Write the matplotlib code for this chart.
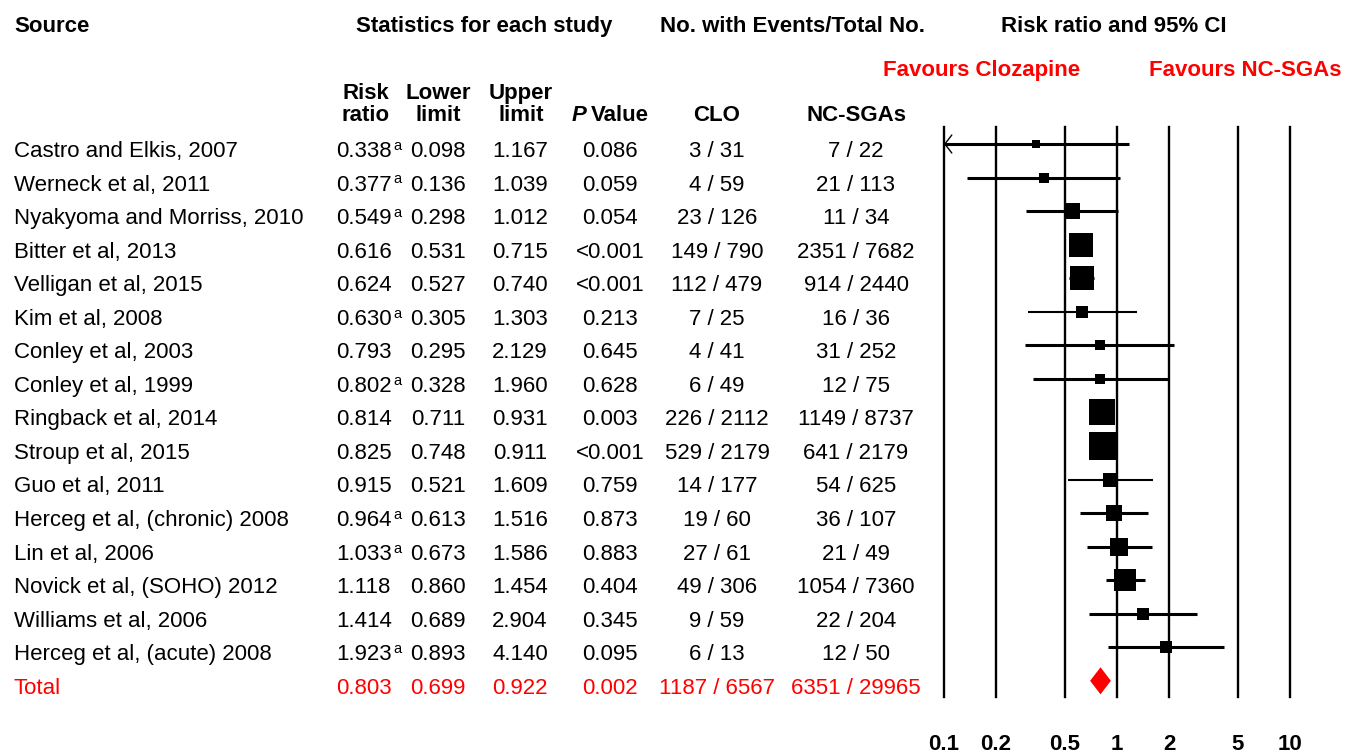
import math
import matplotlib
matplotlib.use('Agg')
import matplotlib.pyplot as plt
from matplotlib.transforms import blended_transform_factory

# ---------------- data ----------------
studies = [
    "Castro and Elkis, 2007", "Werneck et al, 2011", "Nyakyoma and Morriss, 2010",
    "Bitter et al, 2013", "Velligan et al, 2015", "Kim et al, 2008",
    "Conley et al, 2003", "Conley et al, 1999", "Ringback et al, 2014",
    "Stroup et al, 2015", "Guo et al, 2011", "Herceg et al, (chronic) 2008",
    "Lin et al, 2006", "Novick et al, (SOHO) 2012", "Williams et al, 2006",
    "Herceg et al, (acute) 2008",
]
risk_ratio = [0.338, 0.377, 0.549, 0.616, 0.624, 0.630, 0.793, 0.802, 0.814,
              0.825, 0.915, 0.964, 1.033, 1.118, 1.414, 1.923]
lower_limit = [0.098, 0.136, 0.298, 0.531, 0.527, 0.305, 0.295, 0.328, 0.711,
               0.748, 0.521, 0.613, 0.673, 0.860, 0.689, 0.893]
upper_limit = [1.167, 1.039, 1.012, 0.715, 0.740, 1.303, 2.129, 1.960, 0.931,
               0.911, 1.609, 1.516, 1.586, 1.454, 2.904, 4.140]
p_values = ["0.086", "0.059", "0.054", "<0.001", "<0.001", "0.213", "0.645",
            "0.628", "0.003", "<0.001", "0.759", "0.873", "0.883", "0.404",
            "0.345", "0.095"]
footnote_a = [True, True, True, False, False, True, False, True, False, False,
              False, True, True, False, False, True]
clo_events = [3, 4, 23, 149, 112, 7, 4, 6, 226, 529, 14, 19, 27, 49, 9, 6]
clo_total = [31, 59, 126, 790, 479, 25, 41, 49, 2112, 2179, 177, 60, 61, 306, 59, 13]
nc_events = [7, 21, 11, 2351, 914, 16, 31, 12, 1149, 641, 54, 36, 21, 1054, 22, 12]
nc_total = [22, 113, 34, 7682, 2440, 36, 252, 75, 8737, 2179, 625, 107, 49, 7360, 204, 50]
rel_weight = [1.0, 1.7, 4.7, 12.1, 12.1, 3.0, 1.7, 2.1, 14.2, 15.3, 4.1, 5.4,
              6.1, 10.2, 3.0, 3.0]

total_label = "Total"
total_rr, total_lower, total_upper = 0.803, 0.699, 0.922
total_p = "0.002"
total_clo = (1187, 6567)
total_nc = (6351, 29965)

x_ticks = [0.1, 0.2, 0.5, 1, 2, 5, 10]
x_tick_labels = ["0.1", "0.2", "0.5", "1", "2", "5", "10"]

# ---------------- figure ----------------
W, H = 1346, 755
plt.rcParams['font.family'] = ['Liberation Sans', 'DejaVu Sans']

fig = plt.figure(figsize=(W / 100, H / 100), dpi=100)
FS = 16

def fx(px):
    return px / W

def fy(py):
    return 1 - py / H

ax = fig.add_axes([fx(944), fy(697), fx(1290) - fx(944), (697 - 127) / H])
ax.set_xscale('log')
ax.set_xlim(0.1, 10)
row_px = 33.55
ax.set_ylim((697 - 144) / row_px, (127 - 144) / row_px)
for s in ax.spines.values():
    s.set_visible(False)
ax.set_yticks([])
ax.set_xticks(x_ticks, labels=x_tick_labels, fontsize=FS, fontweight='bold')
ax.minorticks_off()
ax.tick_params(axis='x', length=0, pad=27)
ax.patch.set_alpha(0)

for t in x_ticks:
    ax.axvline(t, color='black', lw=1.7, clip_on=False, zorder=1)

xmin = 0.1
thin_rows = {5, 10}
n = len(studies)
for i in range(n):
    lo, hi, rr = lower_limit[i], upper_limit[i], risk_ratio[i]
    lw = 1.5 if i in thin_rows else 2.2
    ax.hlines(i, max(lo, xmin), hi, color='black', lw=lw, zorder=2, clip_on=False)
    if lo < xmin:
        ax.annotate('', xy=(xmin, i), xytext=(xmin * 1.5, i),
                    arrowprops=dict(arrowstyle='->,head_length=0.5,head_width=0.65',
                                    lw=1.0, color='black', shrinkA=0, shrinkB=0,
                                    mutation_scale=10),
                    annotation_clip=False)
    ax.plot(rr, i, marker='s', ms=5.1 * math.sqrt(rel_weight[i]),
            color='black', mew=0, zorder=3, clip_on=False)

dh = 13.5 / row_px
ax.fill([total_lower, total_rr, total_upper, total_rr],
        [n, n - dh, n, n + dh], color='#ff0000', lw=0, zorder=3)

# ---------------- table text ----------------
tr = blended_transform_factory(fig.transFigure, ax.transData)
off = 13 / row_px

def row_text(px, row, s, ha='left', color='black'):
    return fig.text(fx(px), row + off, s, transform=tr, ha=ha, va='baseline',
                    fontsize=FS, color=color)

for i in range(n):
    row_text(14, i, studies[i])
    t = row_text(336, i, f"{risk_ratio[i]:.3f}")
    if footnote_a[i]:
        ax.annotate("a", xy=(1, 1), xycoords=t, xytext=(1.0, 1.5),
                    textcoords='offset points', ha='left', va='top',
                    fontsize=10.5, annotation_clip=False)
    row_text(438, i, f"{lower_limit[i]:.3f}", ha='center')
    row_text(520, i, f"{upper_limit[i]:.3f}", ha='center')
    row_text(610, i, p_values[i], ha='center')
    row_text(717, i, f"{clo_events[i]} / {clo_total[i]}", ha='center')
    row_text(856, i, f"{nc_events[i]} / {nc_total[i]}", ha='center')

red = '#ff0000'
row_text(14, n, total_label, color=red)
row_text(336, n, f"{total_rr:.3f}", color=red)
row_text(438, n, f"{total_lower:.3f}", ha='center', color=red)
row_text(520, n, f"{total_upper:.3f}", ha='center', color=red)
row_text(610, n, total_p, ha='center', color=red)
row_text(717, n, f"{total_clo[0]} / {total_clo[1]}", ha='center', color=red)
row_text(856, n, f"{total_nc[0]} / {total_nc[1]}", ha='center', color=red)

# ---------------- headers ----------------
def head(px, py, s, ha='left', color='black', style='normal'):
    fig.text(fx(px), fy(py), s, ha=ha, va='baseline', fontsize=FS,
             fontweight='bold', color=color, fontstyle=style)

head(14, 32, "Source")
head(484, 32, "Statistics for each study", ha='center')
head(792, 32, "No. with Events/Total No.", ha='center')
head(1114, 32, "Risk ratio and 95% CI", ha='center')
head(982, 76, "Favours Clozapine", ha='center', color=red)
head(1245, 76, "Favours NC-SGAs", ha='center', color=red)

head(366, 99, "Risk", ha='center')
head(366, 121, "ratio", ha='center')
head(438, 99, "Lower", ha='center')
head(438, 121, "limit", ha='center')
head(521, 99, "Upper", ha='center')
head(521, 121, "limit", ha='center')
head(572, 121, "P", style='italic')
head(591, 121, "Value")
head(717, 121, "CLO", ha='center')
head(856, 121, "NC-SGAs", ha='center')

fig.savefig('out.png', dpi=100)
